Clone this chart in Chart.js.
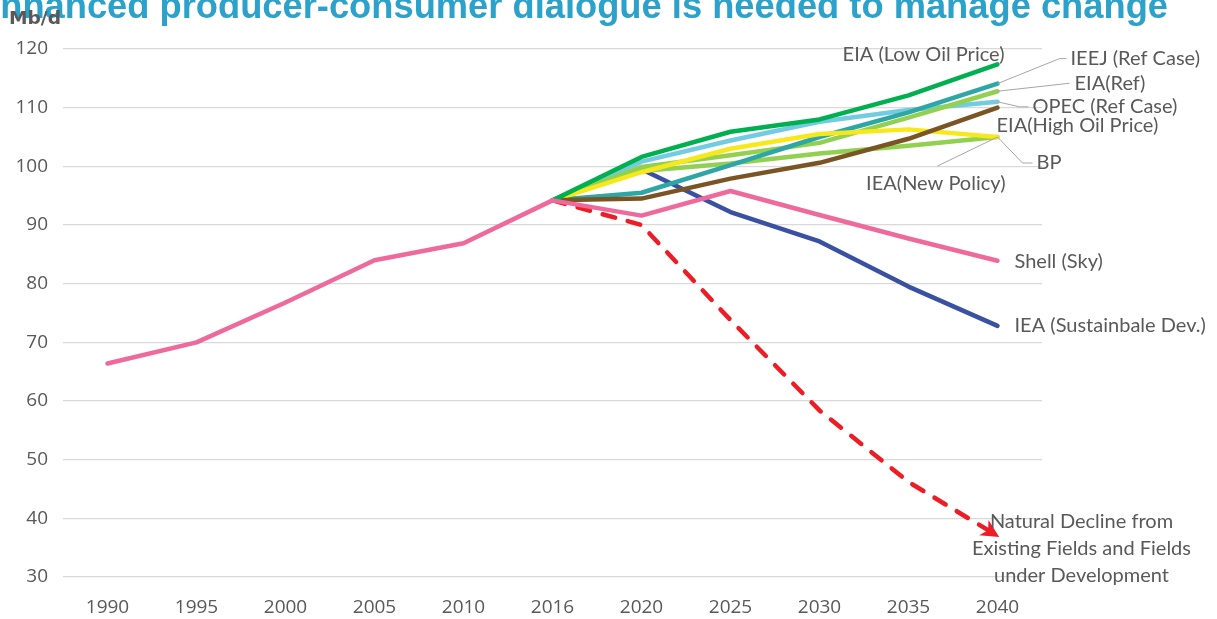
<!DOCTYPE html>
<html>
<head>
<meta charset="utf-8">
<script src="https://cdn.jsdelivr.net/npm/chart.js@4.4.1/dist/chart.umd.min.js"></script>
<style>
  html, body { margin: 0; padding: 0; background: #fff; }
  #wrap { width: 1217px; height: 619px; }
</style>
</head>
<body>
<div id="wrap"><canvas id="chart" width="1217" height="619"></canvas></div>
<script>
// categories
const years = ['1990', '1995', '2000', '2005', '2010', '2016', '2020', '2025', '2030', '2035', '2040'];

// series (Mb/d)
const history        = [66.4, 70.0, 76.8, 84.0, 86.9, 94.2, null, null, null, null, null];
const eiaLow         = [null, null, null, null, null, 94.2, 101.6, 105.9, 108.0, 112.1, 117.4];
const ieej           = [null, null, null, null, null, 94.2, 95.5, 100.2, 105.0, 109.2, 114.1];
const eiaRef         = [null, null, null, null, null, 94.2, 99.9, 101.9, 104.0, 108.3, 112.8];
const opec           = [null, null, null, null, null, 94.2, 100.8, 104.4, 107.6, 109.6, 111.0];
const eiaHigh        = [null, null, null, null, null, 94.2, 94.5, 97.9, 100.6, 104.7, 110.0];
const bp             = [null, null, null, null, null, 94.2, 99.0, 103.0, 105.5, 106.3, 105.0];
const ieaNewPolicy   = [null, null, null, null, null, 94.2, 99.2, 100.5, 102.2, 103.5, 105.0];
const shellSky       = [null, null, null, null, null, 94.2, 91.6, 95.8, 91.7, 87.7, 83.9];
const ieaSustainable = [null, null, null, null, null, 94.2, 99.5, 92.2, 87.2, 79.5, 72.8];
const naturalDecline = [null, null, null, null, null, 94.2, 90.0, 73.8, 58.4, 46.2, 37.0];

// axis
const yMin = 30, yMax = 120, yStep = 10;

const TEXT = '#595959';
const LABEL_FONT = '20px Lato';

// end-of-line labels, offsets in px from the last point of each series
const notes = [
  { text: 'EIA (Low Oil Price)', series: eiaLow, dx: 7, dy: -10, align: 'right' },
  { text: 'IEEJ (Ref Case)', series: ieej, dx: 73, dy: -25, align: 'left', leader: [[62, -25], [69, -25]] },
  { text: 'EIA(Ref)', series: eiaRef, dx: 77, dy: -8, align: 'left', leader: [[72, -8]] },
  { text: 'OPEC (Ref Case)', series: opec, dx: 35, dy: 5, align: 'left', leader: [[22, 5], [31, 5]] },
  { text: 'EIA(High Oil Price)', series: eiaHigh, dx: -1, dy: 18, align: 'left' },
  { text: 'BP', series: bp, dx: 39, dy: 26, align: 'left', leader: [[25, 26], [35, 26]] },
  { text: 'IEA(New Policy)', series: ieaNewPolicy, dx: 8, dy: 47, align: 'right', leader: [[-60, 29]] },
  { text: 'Shell (Sky)', series: shellSky, dx: 17, dy: 1, align: 'left' },
  { text: 'IEA (Sustainbale Dev.)', series: ieaSustainable, dx: 17, dy: 0, align: 'left' }
];
const declineNote = ['Natural Decline from', 'Existing Fields and Fields', 'under Development'];

function lastPoint(chart, series) {
  const i = series.length - 1;
  return {
    x: chart.scales.x.getPixelForValue(i),
    y: chart.scales.y.getPixelForValue(series[i])
  };
}

const notesPlugin = {
  id: 'notes',
  afterDatasetsDraw(chart) {
    const ctx = chart.ctx;
    ctx.save();

    // arrow head on the decline line
    const n = naturalDecline.length - 1;
    const tip = lastPoint(chart, naturalDecline);
    const prevX = chart.scales.x.getPixelForValue(n - 1);
    const prevY = chart.scales.y.getPixelForValue(naturalDecline[n - 1]);
    const ang = Math.atan2(tip.y - prevY, tip.x - prevX);
    ctx.translate(tip.x, tip.y);
    ctx.rotate(ang);
    ctx.fillStyle = '#ee1c25';
    ctx.beginPath();
    ctx.moveTo(2, 0);
    ctx.lineTo(-16, -9);
    ctx.lineTo(-11, 0);
    ctx.lineTo(-16, 9);
    ctx.closePath();
    ctx.fill();
    ctx.setTransform(1, 0, 0, 1, 0, 0);

    // leader lines + labels
    ctx.font = LABEL_FONT;
    ctx.textBaseline = 'middle';
    notes.forEach(note => {
      const p = lastPoint(chart, note.series);
      if (note.leader) {
        ctx.strokeStyle = '#a6a6a6';
        ctx.lineWidth = 1;
        ctx.beginPath();
        ctx.moveTo(p.x, p.y);
        note.leader.forEach(([lx, ly]) => ctx.lineTo(p.x + lx, p.y + ly));
        ctx.stroke();
      }
      ctx.fillStyle = TEXT;
      ctx.textAlign = note.align;
      ctx.fillText(note.text, p.x + note.dx, p.y + note.dy);
    });

    ctx.textAlign = 'center';
    declineNote.forEach((line, i) => {
      ctx.fillText(line, tip.x + 84, tip.y - 14 + i * 27);
    });
    ctx.restore();
  },
  afterDraw(chart) {
    const ctx = chart.ctx;
    ctx.save();
    // title, cut off at the top of the frame
    const title = 'Enhanced producer-consumer dialogue is needed to manage change';
    ctx.font = 'bold 33px "Liberation Sans"';
    const w = ctx.measureText(title.slice(1)).width;
    const size = 33 * 1168 / w;
    ctx.font = 'bold ' + size.toFixed(2) + 'px "Liberation Sans"';
    ctx.fillStyle = '#2ca2cb';
    ctx.textAlign = 'right';
    ctx.textBaseline = 'alphabetic';
    ctx.fillText(title, 1168, 18);

    // unit
    ctx.font = 'bold 18px "DejaVu Sans"';
    const uw = ctx.measureText('Mb/d').width;
    ctx.translate(9, 24);
    ctx.scale(52 / uw, 1);
    ctx.fillStyle = TEXT;
    ctx.textAlign = 'left';
    ctx.fillText('Mb/d', 0, 0);
    ctx.restore();
  }
};

function line(label, data, color, extra) {
  return Object.assign({
    label: label,
    data: data,
    borderColor: color,
    backgroundColor: color,
    borderWidth: 4.5,
    pointRadius: 0,
    tension: 0,
    fill: false,
    borderCapStyle: 'round',
    borderJoinStyle: 'round'
  }, extra || {});
}

new Chart(document.getElementById('chart'), {
  type: 'line',
  data: {
    labels: years,
    datasets: [
      line('History', history, '#ef6a9c'),
      line('Shell (Sky)', shellSky, '#ef6a9c'),
      line('EIA (Low Oil Price)', eiaLow, '#00b050'),
      line('EIA(High Oil Price)', eiaHigh, '#7a5422'),
      line('BP', bp, '#f7e81c'),
      line('IEEJ (Ref Case)', ieej, '#2ea6a6'),
      line('EIA(Ref)', eiaRef, '#92d050'),
      line('IEA(New Policy)', ieaNewPolicy, '#92d050'),
      line('OPEC (Ref Case)', opec, '#72cbe0'),
      line('IEA (Sustainbale Dev.)', ieaSustainable, '#3a50a2'),
      line('Natural Decline', naturalDecline, '#ee1c25', { borderDash: [13, 13], borderCapStyle: 'round' })
    ]
  },
  options: {
    responsive: false,
    animation: false,
    layout: { padding: { top: 49, right: 175, left: 0, bottom: 0 } },
    plugins: {
      legend: { display: false },
      tooltip: { enabled: false },
      title: { display: false }
    },
    scales: {
      x: {
        offset: true,
        grid: { display: false, drawTicks: false },
        border: { display: false },
        ticks: { color: TEXT, font: { family: 'Open Sans', size: 19 }, padding: 19, maxRotation: 0, autoSkip: false },
        afterFit(scale) { scale.height = 42; }
      },
      y: {
        min: yMin,
        max: yMax,
        grid: { color: '#d9d9d9', lineWidth: 1.3, drawTicks: false },
        border: { display: false },
        ticks: { stepSize: yStep, color: TEXT, font: { family: 'Open Sans', size: 19 }, padding: 15 },
        afterFit(scale) { scale.width = 63; }
      }
    }
  },
  plugins: [notesPlugin]
});
</script>
</body>
</html>
